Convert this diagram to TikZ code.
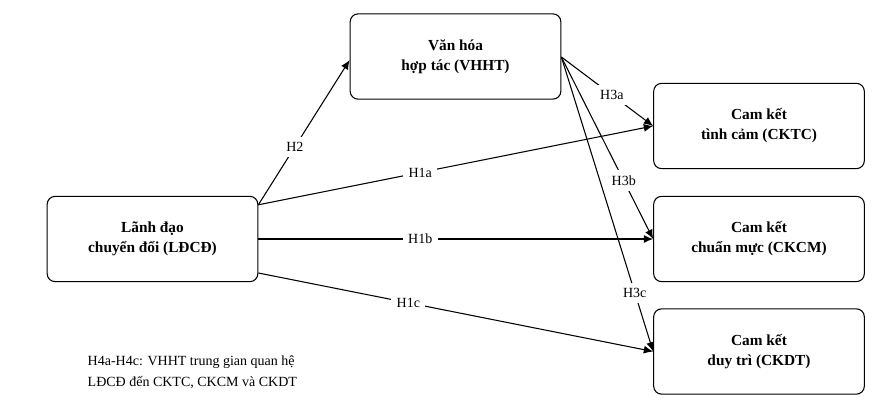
\documentclass[tikz,border=0pt]{standalone}
\usepackage{fontspec}
\setmainfont{Liberation Serif}
\usetikzlibrary{arrows.meta}

\tikzset{
  box/.style={draw,thick,rounded corners=6pt,minimum width=158pt,minimum height=64pt,
    align=center,font=\bfseries\fontsize{11.5}{15}\selectfont},
  link/.style={thick,-{Latex[length=7pt,width=6pt]}},
  hyp/.style={fill=white,inner sep=4pt,font=\fontsize{10.5}{12}\selectfont}
}

\begin{document}
\begin{tikzpicture}[x=0.75pt,y=-0.75pt]
  % Boundary
  \path[use as bounding box] (0,0) rectangle (884,416);
  % Constructs
  \node[box] (ldcd) at (152.5,239) {Lãnh đạo\\chuyển đổi (LĐCĐ)};
  \node[box] (vhht) at (455.5,56.5) {Văn hóa\\hợp tác (VHHT)};
  \node[box] (cktc) at (759,126) {Cam kết\\tình cảm (CKTC)};
  \node[box] (ckcm) at (759,239) {Cam kết\\chuẩn mực (CKCM)};
  \node[box] (ckdt) at (759,351.5) {Cam kết\\duy trì (CKDT)};
  % Paths
  \draw[link] (ldcd.north east) ++(0,9) coordinate (s1) -- (vhht.west |- 0,60) node[hyp,pos=0.4] {H2};
  \draw[link] (s1) -- (cktc.west) node[hyp,pos=0.41] {H1a};
  \draw[link] (ldcd.east) -- (ckcm.west) node[hyp,pos=0.41] {H1b};
  \draw[link] (ldcd.east |- 0,273) -- (ckdt.west) node[hyp,pos=0.38] {H1c};
  \draw[link] (vhht.east |- 0,57) coordinate (s2) -- (cktc.west) node[hyp,pos=0.55] {H3a};
  \draw[link] (s2) -- (ckcm.west) node[hyp,pos=0.68] {H3b};
  \draw[link] (s2) -- (ckdt.west) node[hyp,pos=0.8] {H3c};
  % Note
  \node[anchor=west,align=left,font=\fontsize{10.5}{15.5}\selectfont] (note) at (83,372)
    {H4a-H4c: VHHT trung gian quan hệ\\LĐCĐ đến CKTC, CKCM và CKDT};
\end{tikzpicture}
\end{document}
